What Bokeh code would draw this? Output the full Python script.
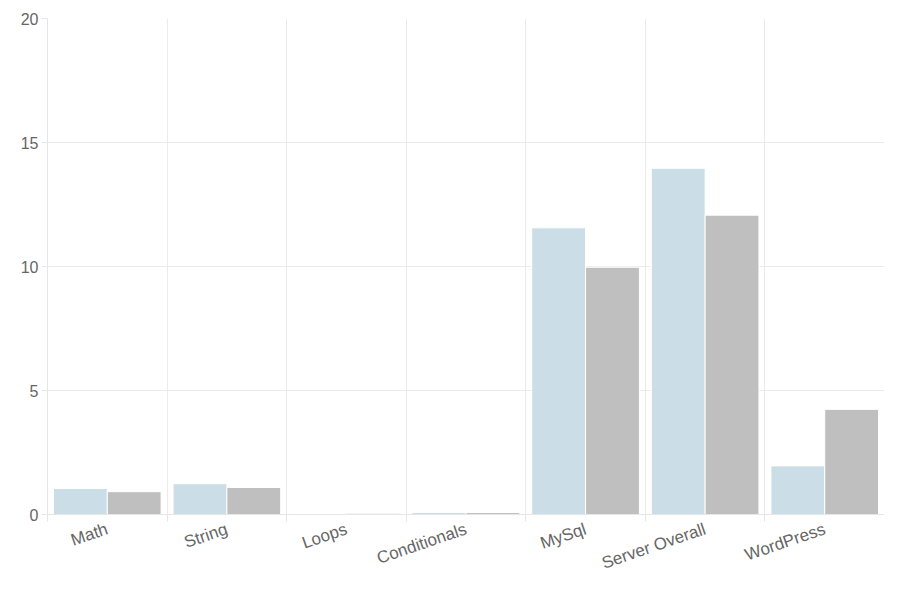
from bokeh.plotting import figure
from bokeh.models import FixedTicker, Range1d, ColumnDataSource
from bokeh.embed import file_html
from bokeh.resources import INLINE

categories = ["Math", "String", "Loops", "Conditionals", "MySql", "Server Overall", "WordPress"]
series_a = [1.05, 1.24, 0.03, 0.08, 11.56, 13.96, 1.96]
series_b = [0.92, 1.09, 0.05, 0.08, 9.97, 12.07, 4.24]
y_ticks = [0, 5, 10, 15, 20]

n = len(categories)
src = ColumnDataSource(dict(
    xa=[i + 0.275 for i in range(n)],
    xb=[i + 0.725 for i in range(n)],
    a=series_a, b=series_b,
))

p = figure(width=884, height=584, output_backend="svg", toolbar_location=None,
           x_range=Range1d(0, n), y_range=Range1d(0, 20),
           min_border_left=47, min_border_right=0, min_border_top=18, min_border_bottom=66)
p.outline_line_color = None

p.vbar(x="xa", top="a", bottom=0, width=0.45, source=src,
       fill_color="#cbdde7", line_color="white", line_width=1)
p.vbar(x="xb", top="b", bottom=0, width=0.45, source=src,
       fill_color="#bfbfbf", line_color="white", line_width=1)

centers = [i + 0.5 for i in range(n)]
p.xaxis.ticker = FixedTicker(ticks=centers, minor_ticks=list(range(n + 1)))
p.xaxis.major_label_overrides = {c: lab for c, lab in zip(centers, categories)}
p.xaxis.major_tick_line_color = None
p.xaxis.minor_tick_out = 7
p.xaxis.minor_tick_in = 0
p.xaxis.minor_tick_line_color = "#e6e6e6"
p.xaxis.axis_line_color = "#e6e6e6"
p.xaxis.major_label_orientation = 0.33
p.xaxis.major_label_text_color = "#666666"
p.xaxis.major_label_text_font = "Liberation Sans"
p.xaxis.major_label_text_font_size = "17px"
p.xaxis.major_label_standoff = 7

p.yaxis.ticker = FixedTicker(ticks=y_ticks)
p.yaxis.major_tick_out = 6
p.yaxis.major_tick_in = 0
p.yaxis.minor_tick_line_color = None
p.yaxis.major_tick_line_color = "#e6e6e6"
p.yaxis.axis_line_color = "#e6e6e6"
p.yaxis.major_label_text_color = "#666666"
p.yaxis.major_label_text_font = "Liberation Sans"
p.yaxis.major_label_text_font_size = "16px"
p.yaxis.major_label_standoff = 3

p.xgrid.ticker = FixedTicker(ticks=list(range(n + 1)))
p.xgrid.grid_line_color = "#ebebeb"
p.ygrid.grid_line_color = "#ebebeb"

open("out.html", "w").write(file_html(p, INLINE))
